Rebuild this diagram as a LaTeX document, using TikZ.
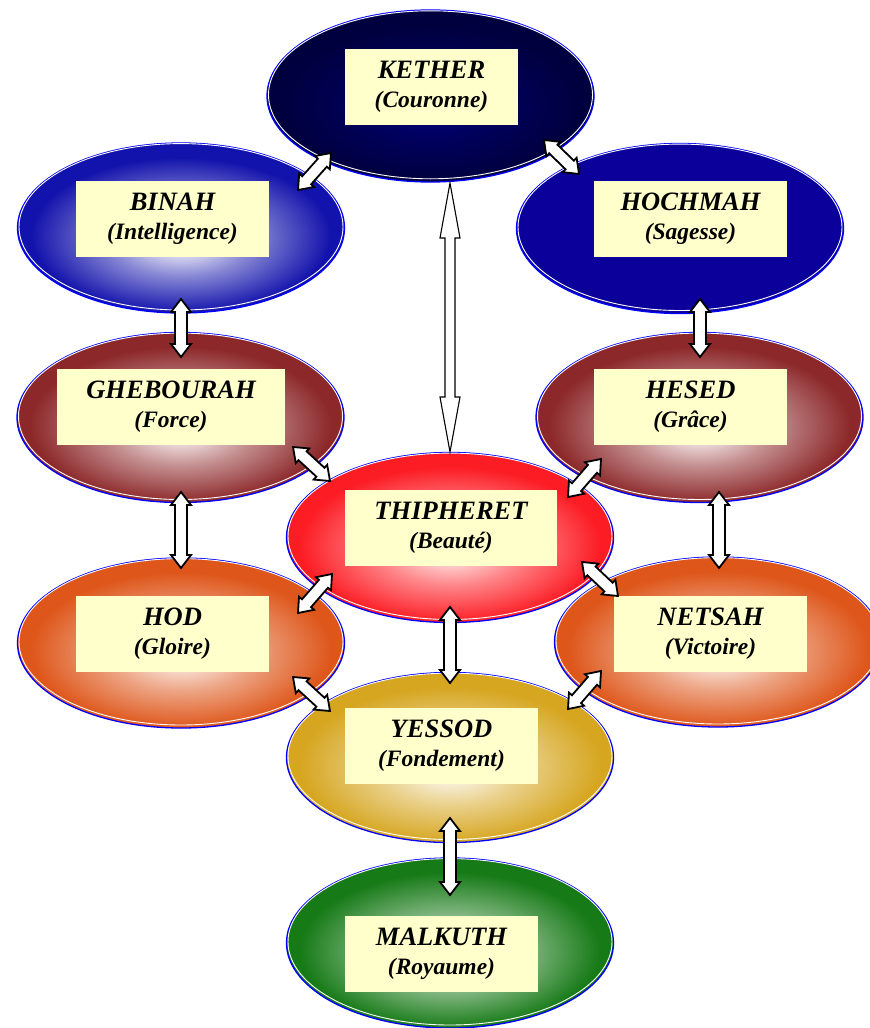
\documentclass[tikz,border=0pt]{standalone}
\usepackage{fontspec}
\setmainfont{Liberation Serif}
\usetikzlibrary{shapes.geometric,calc}
\definecolor{boxfill}{RGB}{255,255,204}
\definecolor{rimblue}{RGB}{0,0,255}
\definecolor{kIn}{RGB}{0,0,112}
\definecolor{kOut}{RGB}{0,0,62}
\definecolor{bIn}{RGB}{232,232,246}
\definecolor{bOut}{RGB}{18,18,172}
\definecolor{hcIn}{RGB}{12,0,154}
\definecolor{gIn}{RGB}{242,228,228}
\definecolor{gOut}{RGB}{140,40,42}
\definecolor{tIn}{RGB}{255,218,218}
\definecolor{tOut}{RGB}{252,28,36}
\definecolor{oIn}{RGB}{249,228,218}
\definecolor{oOut}{RGB}{222,86,26}
\definecolor{yIn}{RGB}{249,242,224}
\definecolor{yOut}{RGB}{214,166,32}
\definecolor{mIn}{RGB}{226,236,226}
\definecolor{mOut}{RGB}{22,122,22}
\colorlet{sefin}{white}
\colorlet{sefout}{black}
% path bounding box maps to radius 25bp
\pgfdeclareradialshading[sefin,sefout]{sefshade}{\pgfpoint{0bp}{-4bp}}{color(0bp)=(sefin); color(3bp)=(sefin); color(11bp)=(sefin!55!sefout); color(23bp)=(sefout); color(50bp)=(sefout)}
\tikzset{
  sef/.style 2 args={ellipse, minimum width=327, minimum height=170, inner sep=0,
    draw=rimblue, line width=1.3, /utils/exec={\colorlet{sefin}{#1}\colorlet{sefout}{#2}}, shading=sefshade},
  bevel/.style={draw=white, line width=0.9},
  lbl/.style={fill=boxfill, inner sep=0, minimum width=193, minimum height=76, align=center,
    font=\fontsize{26.5}{29}\selectfont\bfseries\itshape, text=black},
  arrowline/.style={draw=black, fill=white, line width=1.8, line join=miter},
  longarrow/.style={line width=1.1},
}
\newcommand\sublabel[1]{{\fontsize{23.5}{29}\selectfont #1}}
\newcommand\blockarrow[6][]{%
  \draw[arrowline,#1] (#2)
  -- ($(#2)!#6!(#3)!#5!90:(#3)$)
  -- ($(#2)!#6!(#3)!#4!90:(#3)$)
  -- ($(#3)!#6!(#2)!#4!-90:(#2)$)
  -- ($(#3)!#6!(#2)!#5!-90:(#2)$)
  -- (#3)
  -- ($(#3)!#6!(#2)!#5!90:(#2)$)
  -- ($(#3)!#6!(#2)!#4!90:(#2)$)
  -- ($(#2)!#6!(#3)!#4!-90:(#3)$)
  -- ($(#2)!#6!(#3)!#5!-90:(#3)$)
  -- cycle;}
\begin{document}
\begin{tikzpicture}[x=1pt,y=-1pt]
\useasboundingbox (0,0) rectangle (870,1028);
\fill[white] (0,0) rectangle (870,1028);

% sefirot
\node[sef={kIn}{kOut}, minimum height=172] (kether) at (430.5,96) {};
\draw[bevel] ([yshift=1.2]kether.center) ellipse [x radius=162, y radius=84];
\node[sef={bIn}{bOut}] (binah) at (181,228) {};
\draw[bevel] ([yshift=1.2]binah.center) ellipse [x radius=162, y radius=83.2];
\node[sef={hcIn}{hcIn}] (hochmah) at (680,228.5) {};
\draw[bevel] ([yshift=1.2]hochmah.center) ellipse [x radius=162, y radius=83.2];
\node[sef={gIn}{gOut}] (ghebourah) at (180.5,417.5) {};
\draw[bevel] ([yshift=1.2]ghebourah.center) ellipse [x radius=162, y radius=83.2];
\node[sef={gIn}{gOut}] (hesed) at (699.5,417.5) {};
\draw[bevel] ([yshift=1.2]hesed.center) ellipse [x radius=162, y radius=83.2];
\node[sef={tIn}{tOut}] (thipheret) at (450,537.5) {};
\draw[bevel] ([yshift=1.2]thipheret.center) ellipse [x radius=162, y radius=83.2];
\node[sef={oIn}{oOut}] (hod) at (181,643) {};
\draw[bevel] ([yshift=1.2]hod.center) ellipse [x radius=162, y radius=83.2];
\node[sef={oIn}{oOut}] (netsah) at (718,642) {};
\draw[bevel] ([yshift=1.2]netsah.center) ellipse [x radius=162, y radius=83.2];
\node[sef={yIn}{yOut}] (yessod) at (450,757.5) {};
\draw[bevel] ([yshift=1.2]yessod.center) ellipse [x radius=162, y radius=83.2];
\node[sef={mIn}{mOut}] (malkuth) at (450,943) {};
\draw[bevel] ([yshift=1.2]malkuth.center) ellipse [x radius=162, y radius=83.2];

% labels
\node[lbl, minimum width=173] (lkether) at (431.5,87) {KETHER\\\sublabel{(Couronne)}};
\node[lbl] (lbinah) at (172.5,218.5) {BINAH\\\sublabel{(Intelligence)}};
\node[lbl] (lhochmah) at (690.5,218.5) {HOCHMAH\\\sublabel{(Sagesse)}};
\node[lbl, minimum width=228] (lghebourah) at (171,407) {GHEBOURAH\\\sublabel{(Force)}};
\node[lbl] (lhesed) at (690.5,407) {HESED\\\sublabel{(Grâce)}};
\node[lbl, minimum width=212] (lthipheret) at (451,528) {THIPHERET\\\sublabel{(Beauté)}};
\node[lbl] (lhod) at (172.5,634) {HOD\\\sublabel{(Gloire)}};
\node[lbl] (lnetsah) at (710.5,634) {NETSAH\\\sublabel{(Victoire)}};
\node[lbl] (lyessod) at (441.5,746) {YESSOD\\\sublabel{(Fondement)}};
\node[lbl] (lmalkuth) at (441.5,954) {MALKUTH\\\sublabel{(Royaume)}};

% arrow ends
\coordinate (kb1) at (331,153);   \coordinate (kb2) at (298,190);
\coordinate (kh1) at (544,140);   \coordinate (kh2) at (579,174);
\coordinate (bg1) at (181,299);   \coordinate (bg2) at (181,357);
\coordinate (hh1) at (700,299);   \coordinate (hh2) at (700,357);
\coordinate (gh1) at (181,492);   \coordinate (gh2) at (181,568);
\coordinate (gt1) at (293,447);   \coordinate (gt2) at (330,481);
\coordinate (ht1) at (601,459);   \coordinate (ht2) at (568,497);
\coordinate (hn1) at (719,492);   \coordinate (hn2) at (719,568);
\coordinate (th1) at (332,574);   \coordinate (th2) at (298,613);
\coordinate (tn1) at (582,562);   \coordinate (tn2) at (618,596);
\coordinate (ty1) at (450,607);   \coordinate (ty2) at (450,683);
\coordinate (hy1) at (293,677);   \coordinate (hy2) at (330,711);
\coordinate (ny1) at (601,671);   \coordinate (ny2) at (568,709);
\coordinate (ym1) at (450,818);   \coordinate (ym2) at (450,895);
\coordinate (kt1) at (450,183);   \coordinate (kt2) at (450,452);

\blockarrow{kb1}{kb2}{6pt}{10pt}{13pt}
\blockarrow{kh1}{kh2}{6pt}{10pt}{13pt}
\blockarrow{bg1}{bg2}{6pt}{10pt}{13pt}
\blockarrow{hh1}{hh2}{6pt}{10pt}{13pt}
\blockarrow{gh1}{gh2}{6pt}{10pt}{13pt}
\blockarrow{gt1}{gt2}{6pt}{10pt}{13pt}
\blockarrow{ht1}{ht2}{6pt}{10pt}{13pt}
\blockarrow{hn1}{hn2}{6pt}{10pt}{13pt}
\blockarrow{th1}{th2}{6pt}{10pt}{13pt}
\blockarrow{tn1}{tn2}{6pt}{10pt}{13pt}
\blockarrow{ty1}{ty2}{6pt}{10pt}{13pt}
\blockarrow{hy1}{hy2}{6pt}{10pt}{13pt}
\blockarrow{ny1}{ny2}{6pt}{10pt}{13pt}
\blockarrow{ym1}{ym2}{6pt}{10pt}{13pt}
\blockarrow[longarrow]{kt1}{kt2}{5pt}{10pt}{55pt}
\end{tikzpicture}
\end{document}
